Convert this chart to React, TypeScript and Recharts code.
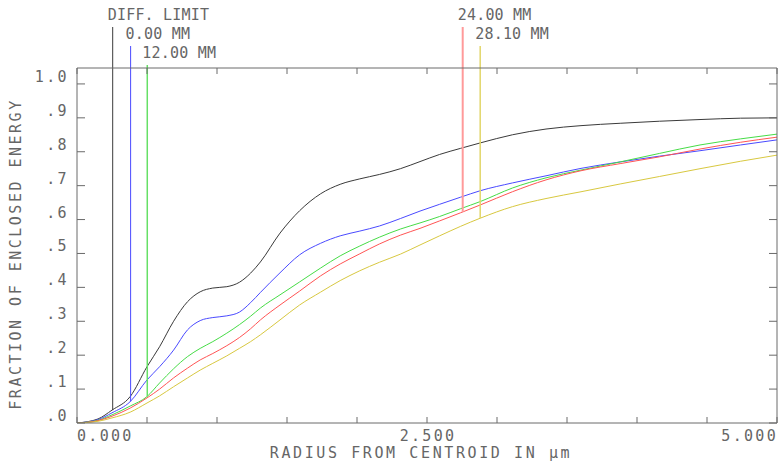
import { LineChart, Line, XAxis, YAxis, ReferenceLine } from 'recharts'

// radius from centroid (µm)
const radius = [0, 0.15, 0.25, 0.38, 0.5, 0.59, 0.69, 0.79, 0.88, 0.97, 1.07, 1.16, 1.24, 1.31, 1.45, 1.59, 1.74, 1.88, 2.02, 2.16, 2.31, 2.45, 2.59, 2.74, 2.88, 3.11, 3.35, 3.6, 3.88, 4.16, 4.45, 4.74, 5.0]

// fraction of enclosed energy per field
const diffLimit = [0, 0.012, 0.038, 0.078, 0.166, 0.225, 0.3, 0.358, 0.387, 0.398, 0.402, 0.415, 0.442, 0.475, 0.56, 0.626, 0.676, 0.704, 0.72, 0.733, 0.75, 0.771, 0.792, 0.81, 0.826, 0.85, 0.867, 0.877, 0.884, 0.89, 0.895, 0.899, 0.9]
const field0 = [0, 0.01, 0.03, 0.063, 0.127, 0.166, 0.215, 0.275, 0.302, 0.311, 0.316, 0.327, 0.355, 0.385, 0.443, 0.496, 0.53, 0.552, 0.566, 0.581, 0.603, 0.625, 0.645, 0.666, 0.685, 0.708, 0.729, 0.751, 0.77, 0.787, 0.803, 0.82, 0.835]
const field12 = [0, 0.008, 0.024, 0.05, 0.078, 0.118, 0.16, 0.196, 0.22, 0.24, 0.265, 0.29, 0.315, 0.339, 0.378, 0.416, 0.457, 0.493, 0.522, 0.548, 0.572, 0.59, 0.609, 0.632, 0.653, 0.693, 0.723, 0.746, 0.77, 0.795, 0.82, 0.838, 0.852]
const field24 = [0, 0.007, 0.02, 0.044, 0.074, 0.1, 0.133, 0.162, 0.186, 0.205, 0.228, 0.252, 0.278, 0.304, 0.348, 0.389, 0.434, 0.469, 0.499, 0.528, 0.554, 0.574, 0.596, 0.62, 0.643, 0.682, 0.717, 0.744, 0.765, 0.785, 0.808, 0.828, 0.843]
const field281 = [0, 0.005, 0.015, 0.032, 0.059, 0.08, 0.107, 0.133, 0.156, 0.176, 0.198, 0.22, 0.24, 0.26, 0.304, 0.348, 0.386, 0.42, 0.449, 0.474, 0.498, 0.525, 0.552, 0.58, 0.604, 0.638, 0.662, 0.682, 0.705, 0.727, 0.75, 0.772, 0.79]

const seriesKeys = ['diff', 'f0', 'f12', 'f24', 'f281']
const seriesNames = ['DIFF. LIMIT', '0.00 MM', '12.00 MM', '24.00 MM', '28.10 MM']
const seriesValues = [diffLimit, field0, field12, field24, field281]

// where each field's marker sits on its curve
const markerRadius = [0.255, 0.383, 0.502, 2.755, 2.88]
const markerEnergy = [0.038, 0.063, 0.078, 0.622, 0.604]
const markerRow = [0, 1, 2, 0, 1]

const xTicks = [0, 0.5, 1, 1.5, 2, 2.5, 3, 3.5, 4, 4.5, 5]
const xTickLabels: Record<string, string> = { '0': '0.000', '2.5': '2.500', '5': '5.000' }
const yTicks = [0, 0.1, 0.2, 0.3, 0.4, 0.5, 0.6, 0.7, 0.8, 0.9, 1.0]
const yTickLabels = ['.0', '.1', '.2', '.3', '.4', '.5', '.6', '.7', '.8', '.9', '1.0']

const curveColors = ['#3a3a3a', '#4a4aff', '#46dc46', '#ff5454', '#d8c840']
const markerColors = ['#3a3a3a', '#4a4aff', '#66e066', '#ff9a9a', '#e2d66a']
const markerWidths = [1, 1, 1.5, 2, 1.5]

const W = 778
const H = 466
const TOP = 68
const BOTTOM = 423
const Y_MAX = 1.047
const FRAME = '#6a6a6a'
const TEXT = '#666'
const FONT = '"DejaVu Sans Mono", monospace'

const data = radius.map((r, i) => {
  const row: Record<string, number> = { r }
  seriesKeys.forEach((k, s) => (row[k] = seriesValues[s][i]))
  return row
})

const pxToE = (px: number) => ((BOTTOM - px) / (BOTTOM - TOP)) * Y_MAX

function BottomTick({ x, payload }: any) {
  const lbl = xTickLabels[String(payload.value)]
  const anchor = payload.value === 0 ? 'start' : payload.value === 5 ? 'end' : 'middle'
  const dx = payload.value === 5 ? 1 : payload.value === 0 ? 0 : 1
  return (
    <g>
      <line x1={x} y1={BOTTOM} x2={x} y2={BOTTOM - 6} stroke={FRAME} />
      {lbl && (
        <text x={x + dx} y={BOTTOM + 18} textAnchor={anchor} fill={TEXT} fontFamily={FONT} fontSize={15} letterSpacing={2.3}>
          {lbl}
        </text>
      )}
    </g>
  )
}

function TopTick({ x }: any) {
  return <line x1={x} y1={TOP} x2={x} y2={TOP + 6} stroke={FRAME} />
}

function LeftTick({ y, index }: any) {
  return (
    <g>
      <line x1={77} y1={y} x2={85} y2={y} stroke={FRAME} />
      <text x={69} y={y - 2} textAnchor="end" fill={TEXT} fontFamily={FONT} fontSize={15} letterSpacing={2.4}>
        {yTickLabels[index]}
      </text>
    </g>
  )
}

function RightTick({ y }: any) {
  return <line x1={777} y1={y} x2={769} y2={y} stroke={FRAME} />
}

export default function App() {
  return (
    <div style={{ position: 'absolute', left: 0, top: 0, background: '#fff' }}>
      <LineChart width={W} height={H} data={data} margin={{ top: TOP - 1, right: 0, bottom: H - BOTTOM - 1, left: 76 }}>
        <XAxis
          dataKey="r"
          type="number"
          domain={[0, 5]}
          ticks={xTicks}
          height={1}
          tickSize={0}
          tickMargin={0}
          tickLine={false}
          tick={<BottomTick />}
          axisLine={{ stroke: FRAME }}
          interval={0}
          label={{
            content: () => (
              <text x={421} y={458} textAnchor="middle" fill={TEXT} fontFamily={FONT} fontSize={15} letterSpacing={2.6}>
                RADIUS FROM CENTROID IN µm
              </text>
            ),
          }}
        />
        <XAxis
          xAxisId="top"
          orientation="top"
          dataKey="r"
          type="number"
          domain={[0, 5]}
          ticks={xTicks}
          height={1}
          tickSize={0}
          tickMargin={0}
          tickLine={false}
          tick={<TopTick />}
          axisLine={{ stroke: FRAME }}
          interval={0}
        />
        <YAxis
          type="number"
          domain={[0, Y_MAX]}
          allowDataOverflow
          ticks={yTicks}
          width={1}
          tickSize={0}
          tickMargin={0}
          tickLine={false}
          tick={<LeftTick />}
          axisLine={{ stroke: FRAME }}
          interval={0}
          label={{
            content: () => (
              <text
                x={21}
                y={254}
                transform="rotate(-90 21 254)"
                textAnchor="middle"
                fill={TEXT}
                fontFamily={FONT}
                fontSize={15}
                letterSpacing={2.5}
              >
                FRACTION OF ENCLOSED ENERGY
              </text>
            ),
          }}
        />
        <YAxis
          yAxisId="right"
          orientation="right"
          type="number"
          domain={[0, Y_MAX]}
          allowDataOverflow
          ticks={yTicks}
          width={1}
          tickSize={0}
          tickMargin={0}
          tickLine={false}
          tick={<RightTick />}
          axisLine={{ stroke: FRAME }}
          interval={0}
        />
        {seriesKeys.map((k, i) => (
          <Line
            key={k}
            dataKey={k}
            name={seriesNames[i]}
            type="monotone"
            stroke={curveColors[i]}
            strokeWidth={1}
            dot={false}
            isAnimationActive={false}
          />
        ))}
        {markerRadius.map((r, i) => (
          <ReferenceLine
            key={'m' + i}
            ifOverflow="visible"
            segment={[
              { x: r, y: markerEnergy[i] },
              { x: r, y: pxToE(27 + markerRow[i] * 19) },
            ]}
            stroke={markerColors[i]}
            strokeWidth={markerWidths[i]}
            label={(p: any) => {
              const vb = p.viewBox || {}
              return (
                <text
                  x={vb.x - 5}
                  y={vb.y - 7}
                  fill={TEXT}
                  fontFamily={FONT}
                  fontSize={15}
                  letterSpacing={0.2}
                >
                  {seriesNames[i]}
                </text>
              )
            }}
          />
        ))}
      </LineChart>
    </div>
  )
}
